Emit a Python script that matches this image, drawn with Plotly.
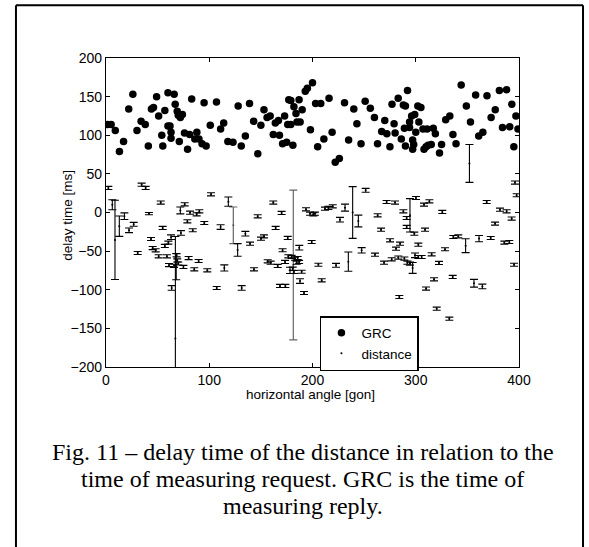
import plotly.graph_objects as go

# GRC: time of measuring reply (dots)
grc_angle = [1.5, 5, 9, 13, 17, 22, 26, 30, 34, 38, 41, 44, 46, 49, 51, 54, 55, 57, 60, 60,
             62, 63, 63, 66, 67, 69, 70, 72, 74, 71, 76, 79, 81, 83, 86, 88, 90, 93, 95, 97,
             101, 107, 111, 114, 118, 123, 128, 131, 135, 139, 143, 147, 150, 153, 156, 159, 162, 164, 167, 168,
             171, 173, 175, 176, 177, 179, 181, 179, 182, 185, 184, 187, 188, 190, 193, 195, 198, 200, 205, 203,
             208, 211, 216, 219, 222, 226, 231, 235, 240, 243, 247, 251, 256, 260, 263, 267, 270, 272, 275, 277,
             279, 280, 283, 286, 288, 289, 290, 290, 292, 294, 294, 296, 297, 297, 298, 299, 300, 302, 303, 305,
             307, 308, 310, 311, 312, 315, 317, 319, 323, 325, 329, 333, 336, 339, 344, 349, 353, 358, 361, 365,
             369, 373, 377, 381, 384, 388, 391, 393, 395, 397, 399]
grc_delay = [114, 114, 106, 79, 92, 134, 153, 106, 118, 114, 86, 134, 136, 150, 125, 100, 86, 132, 155, 112,
             112, 104, 96, 153, 140, 131, 126, 123, 127, 92, 103, 82, 101, 147, 95, 104, 95, 89, 142, 86,
             113, 143, 108, 116, 92, 91, 138, 86, 99, 141, 118, 76, 113, 133, 123, 125, 101, 116, 119, 100,
             89, 125, 91, 114, 146, 145, 87, 114, 137, 117, 128, 146, 117, 133, 157, 161, 107, 168, 85, 141,
             141, 95, 148, 104, 65, 70, 142, 94, 134, 115, 89, 144, 135, 123, 89, 105, 119, 102, 85, 140,
             115, 103, 148, 95, 139, 109, 86, 138, 158, 110, 117, 125, 94, 82, 88, 127, 104, 138, 117, 136,
             108, 82, 85, 108, 87, 88, 109, 102, 77, 88, 120, 125, 101, 89, 165, 138, 117, 152, 99, 104,
             151, 123, 133, 158, 110, 159, 111, 140, 85, 125, 108]

# distance: delay time with error bars (black)
dist_angle = [2.3, 6.1, 8.7, 12.9, 17.8, 22.3, 26.8, 30.7, 34.5, 38.4, 41.6, 43.6, 45.2, 48.1, 53, 51, 54.9, 57, 60.4, 63,
              59, 65.9, 63.6, 61, 67.2, 68.4, 69, 70, 68, 72.6, 72, 76.2, 75, 80, 81.4, 78.8, 84, 85.5, 87.8, 89.7,
              90.4, 95.2, 98.1, 101.7, 107.2, 111, 114.6, 118.5, 127.5, 131.4, 135, 139.5, 143.3, 146.9, 150.1, 153, 156.6, 159.5, 162, 164.3,
              166.3, 170.1, 171, 168.5, 173.7, 176, 173.4, 176.6, 178.2, 179.8, 183, 184.7, 180.8, 182, 187, 185.6, 189.5, 187.9, 191.8, 187.2,
              193.7, 197.6, 200.8, 199.2, 202.4, 205.7, 208.9, 212.1, 215.4, 219.6, 222.8, 226.6, 231.5, 234.7, 238.9, 244.4, 247.6, 251.5, 260.5, 263.1,
              266.4, 269.3, 271.8, 279.9, 275.1, 276.7, 280.9, 283.1, 284.8, 284.1, 288, 291.2, 291.2, 289, 291.9, 294.4, 297, 294.4, 298.6, 300.2,
              302.5, 299.3, 302.5, 305.7, 308, 313.2, 309, 310, 315.4, 317.7, 320.3, 322.5, 325.7, 328.3, 332.5, 335.8, 336.4, 341.2, 348.3, 352,
              356.4, 361.3, 364.5, 368.7, 372.6, 376.8, 381.6, 388, 385.8, 390.6, 392.9, 395.2, 396.1, 397.7]
dist_delay = [31.8, 10, -35.5, -17.7, -4.8, -23, -15.3, -52.4, 36, 31.8, -1.5, -34.3, -46, -49, 12.8, -56.7, -20, -43.3, -39, -32,
              -56.7, -69, -97.7, -68, -163, -55.4, -62, -66, -70, -26.5, 2.7, 10.6, -70.5, -59, -0.2, -11.4, -23, -73.6, -2.4, -62.8,
              1.5, -13.6, -74.9, 23.5, -97.7, -18.8, -71.8, 14, -48.5, -97.7, -27.4, -40.3, -73.6, -5, -33.9, -30.9, -63.2, -65, 12.8, -20,
              -69.2, -0.6, -48.9, -95, -95, -32.9, -64, -56.7, -74.9, -57.5, -59.8, -65, -72.7, -77, -64, -59, -76.7, -88.7, -104.2, -45.5,
              4.1, -1.5, -2.4, -38.2, -1.5, -67.6, -87.8, 5, 5.9, 8, -68.4, -9.3, 6.3, -63.6, 0, -11, -49, 28.7, -54.6, -3.7,
              -22.2, -65, 13.6, 12.8, -36, -60.6, -46.8, -58.4, -40.3, -109.4, 1.5, -18.7, -7.1, -59.7, -65, -66.1, -71.8, -3.6, -27.4, 18.8,
              -41.7, -55.4, -57.6, -57.6, 10.2, 14.5, -22.2, -98.5, -54.1, -86.5, -124.5, -65.3, 0.7, -47.6, -137.4, -83.4, -31.7, -30.9, -43, 63.5,
              -91.6, -33.8, -95.7, 13.6, -33, -14.4, 3.7, 1.5, -39, -38.2, -7.9, -67.6, 38.7, 22.3]
dist_err = [2, 6.5, 51.3, 13.2, 4.3, 3, 2.5, 2, 2, 2, 1.5, 2, 2, 2, 2, 2, 2, 2, 2, 3,
            2, 2, 3, 2, 132, 2, 2, 2, 17, 3, 4.5, 2, 2, 2, 2, 2, 2, 2, 2, 2,
            2, 2, 2, 2, 2, 3, 4, 6, 8.2, 3, 3, 2, 2, 2, 2, 2, 2, 2, 2, 2,
            2, 2, 2, 2, 2, 2, 2, 2, 4, 2, 2, 2, 2, 2, 2, 2, 2, 3, 2, 3,
            2, 2, 2, 2, 2, 2, 2, 2, 2, 2, 2.5, 3, 4.5, 12.5, 33.5, 7.6, 3.5, 2.5, 2, 2,
            2, 2, 2, 2, 2, 2, 2, 2, 2, 2, 2, 2, 2, 2, 2, 2, 7, 21.6, 2, 2,
            2, 3, 2, 2, 2, 2, 2, 2, 2, 2, 2, 2, 2, 2, 2, 2, 2, 2, 9, 24.5,
            5, 4, 3, 2, 2, 2, 2, 2, 2, 2, 2, 2, 2, 2]

# distance points whose bars print lighter
dist_angle_grey = [123.3, 181.4]
dist_delay_grey = [-16.6, -68]
dist_err_grey = [23.7, 97]

caption_lines = ["Fig. 11 – delay time of the distance in relation to the",
                 "time of measuring request. GRC is the time of",
                 "measuring reply."]

fig = go.Figure()

fig.add_trace(go.Scatter(
    x=grc_angle, y=grc_delay, mode='markers', name='GRC',
    marker=dict(color='black', size=7.5)))

fig.add_trace(go.Scatter(
    x=dist_angle_grey, y=dist_delay_grey, mode='markers', showlegend=False,
    marker=dict(color='#555555', size=2),
    error_y=dict(type='data', array=dist_err_grey, color='#666666', thickness=1.2, width=4)))

fig.add_trace(go.Scatter(
    x=dist_angle, y=dist_delay, mode='markers', name='distance',
    marker=dict(color='black', size=2),
    error_y=dict(type='data', array=dist_err, color='black', thickness=1.1, width=4)))

axis_font = dict(family='Liberation Sans, Arial, sans-serif', size=13.5, color='black')
tick_font = dict(family='Liberation Sans, Arial, sans-serif', size=14, color='black')

fig.update_xaxes(range=[0, 400], tickvals=[0, 100, 200, 300, 400],
                 showline=True, linecolor='black', linewidth=1.3, mirror='ticks',
                 ticks='inside', ticklen=4, tickcolor='black', showgrid=False, zeroline=False,
                 tickfont=tick_font)
fig.update_yaxes(range=[-200, 200], tickvals=[-200, -150, -100, -50, 0, 50, 100, 150, 200],
                 showline=True, linecolor='black', linewidth=1.3, mirror='ticks',
                 ticks='inside', ticklen=4, tickcolor='black', showgrid=False, zeroline=False,
                 tickfont=tick_font)

# axis labels placed like the matlab ones (y label sits close to the short tick labels)
fig.add_annotation(text='delay time [ms]', xref='paper', yref='paper', x=-0.093, y=0.491,
                   textangle=-90, showarrow=False, xanchor='center', yanchor='middle', font=axis_font)
fig.add_annotation(text='horizontal angle [gon]', xref='paper', yref='paper', x=0.494, y=-0.089,
                   showarrow=False, xanchor='center', yanchor='middle', font=axis_font)

# outer frame of the figure box
frame = dict(color='black', width=2)
fig.add_shape(type='line', xref='paper', yref='paper', x0=-0.218, x1=-0.218, y0=-0.65, y1=1.171, line=frame)
fig.add_shape(type='line', xref='paper', yref='paper', x0=1.155, x1=1.155, y0=-0.65, y1=1.171, line=frame)
fig.add_shape(type='line', xref='paper', yref='paper', x0=-0.218, x1=1.155, y0=1.171, y1=1.171, line=frame)

for line, ypos in zip(caption_lines, [-0.2754, -0.3638, -0.4511]):
    fig.add_annotation(text=line, xref='paper', yref='paper', x=0.476, y=ypos,
                       showarrow=False, xanchor='center', yanchor='middle',
                       font=dict(family='Liberation Serif, Times New Roman, serif', size=24, color='black'))

fig.update_layout(
    width=589, height=547,
    margin=dict(l=106, r=70, t=58, b=180),
    paper_bgcolor='white', plot_bgcolor='white',
    legend=dict(x=0.518, y=0.165, xanchor='left', yanchor='top',
                bordercolor='black', borderwidth=1.5, bgcolor='white',
                font=axis_font, tracegroupgap=0),
)

# drop the default 8px page margin so the figure fills the window exactly
fig.write_html("out.html", config={'displayModeBar': False},
               post_script="document.body.style.margin='0';")
